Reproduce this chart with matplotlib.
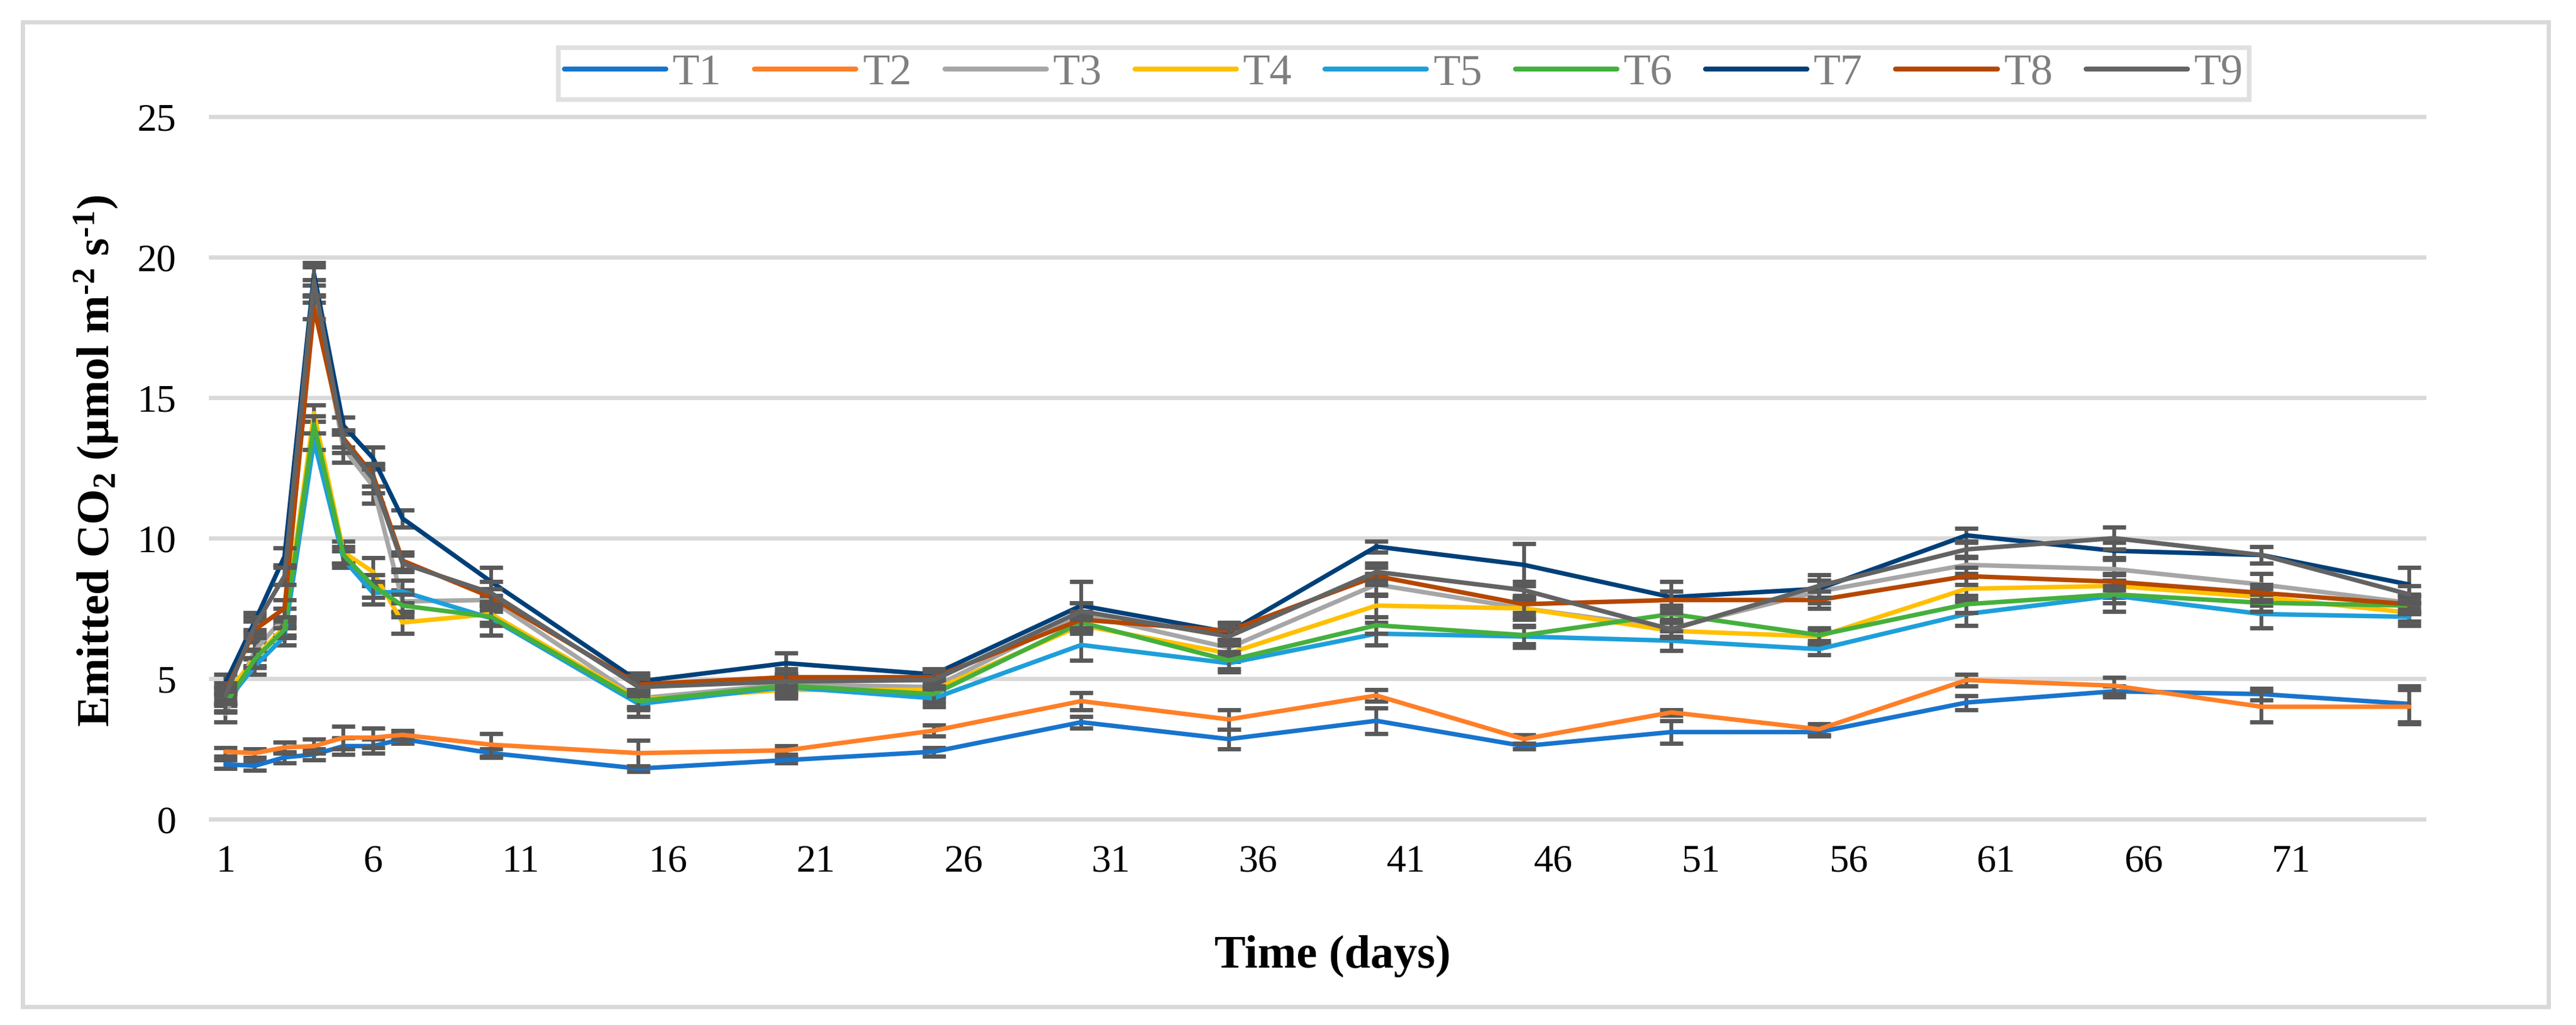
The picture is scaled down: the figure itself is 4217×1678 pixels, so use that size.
import matplotlib
matplotlib.use("Agg")
import matplotlib.pyplot as plt
from matplotlib.patches import Rectangle

plt.rcParams['font.family'] = ['Liberation Serif', 'DejaVu Serif']
plt.rcParams['mathtext.fontset'] = 'custom'
plt.rcParams['mathtext.rm'] = 'Liberation Serif:bold'
plt.rcParams['mathtext.bf'] = 'Liberation Serif:bold'
plt.rcParams['mathtext.it'] = 'Liberation Serif:bold'

days = [1, 2, 3, 4, 5, 6, 7, 10, 15, 20, 25, 30, 35, 40, 45, 50, 55, 60, 65, 70, 75]
tick_days = [1, 6, 11, 16, 21, 26, 31, 36, 41, 46, 51, 56, 61, 66, 71]
y_ticks = [0, 5, 10, 15, 20, 25]
labels = ['T1', 'T2', 'T3', 'T4', 'T5', 'T6', 'T7', 'T8', 'T9']

T1 = [1.95, 1.9, 2.2, 2.3, 2.6, 2.6, 2.85, 2.35, 1.8, 2.1, 2.4, 3.45, 2.85, 3.5, 2.6, 3.1, 3.1, 4.15, 4.55, 4.45, 4.1]
T2 = [2.4, 2.35, 2.55, 2.6, 2.9, 2.9, 3.0, 2.65, 2.35, 2.45, 3.15, 4.2, 3.55, 4.4, 2.85, 3.8, 3.2, 4.95, 4.75, 4.0, 4.0]
T3 = [3.75, 6.0, 7.2, 18.8, 13.2, 11.85, 7.75, 7.8, 4.3, 4.8, 4.7, 7.3, 6.1, 8.35, 7.5, 6.8, 8.1, 9.05, 8.9, 8.35, 7.7]
T4 = [4.4, 5.75, 6.85, 14.45, 9.5, 8.8, 7.0, 7.3, 4.25, 4.6, 4.6, 6.9, 5.9, 7.6, 7.5, 6.7, 6.5, 8.2, 8.3, 7.9, 7.35]
T5 = [4.15, 5.45, 6.5, 13.45, 9.25, 8.05, 8.1, 7.15, 4.1, 4.7, 4.3, 6.2, 5.55, 6.6, 6.5, 6.35, 6.05, 7.3, 7.95, 7.3, 7.2]
T6 = [4.1, 5.7, 6.75, 14.05, 9.4, 8.3, 7.6, 7.2, 4.2, 4.75, 4.45, 7.0, 5.65, 6.9, 6.55, 7.3, 6.55, 7.65, 8.0, 7.7, 7.6]
T7 = [4.85, 7.05, 9.35, 19.4, 14.0, 12.85, 10.7, 8.45, 4.9, 5.55, 5.15, 7.6, 6.65, 9.7, 9.05, 7.9, 8.2, 10.1, 9.55, 9.4, 8.35]
T8 = [4.55, 6.75, 7.5, 18.2, 13.55, 12.25, 9.2, 7.9, 4.8, 5.05, 5.05, 7.1, 6.7, 8.65, 7.65, 7.8, 7.8, 8.65, 8.45, 8.05, 7.65]
T9 = [4.4, 6.9, 8.65, 19.15, 13.45, 12.1, 9.1, 8.05, 4.7, 4.9, 4.95, 7.4, 6.5, 8.8, 8.15, 6.75, 8.3, 9.6, 10.0, 9.4, 8.0]

E1 = [0.15, 0.15, 0.2, 0.2, 0.3, 0.25, 0.15, 0.15, 0.1, 0.1, 0.15, 0.2, 0.35, 0.45, 0.1, 0.4, 0.15, 0.25, 0.2, 0.2, 0.65]
E2 = [0.15, 0.15, 0.2, 0.25, 0.4, 0.35, 0.15, 0.4, 0.45, 0.15, 0.2, 0.3, 0.35, 0.2, 0.15, 0.1, 0.2, 0.2, 0.3, 0.55, 0.6]
E3 = [0.3, 0.3, 0.3, 0.4, 0.5, 0.6, 0.4, 0.4, 0.3, 0.3, 0.3, 0.4, 0.3, 0.4, 0.4, 0.3, 0.4, 0.3, 0.4, 0.4, 0.3]
E4 = [0.3, 0.3, 0.3, 0.3, 0.4, 0.5, 0.4, 0.3, 0.3, 0.3, 0.3, 0.3, 0.3, 0.4, 0.3, 0.3, 0.3, 0.4, 0.4, 0.3, 0.3]
E5 = [0.3, 0.3, 0.3, 0.3, 0.3, 0.4, 0.4, 0.6, 0.45, 0.3, 0.3, 0.55, 0.3, 0.4, 0.4, 0.35, 0.2, 0.4, 0.55, 0.5, 0.3]
E6 = [0.3, 0.3, 0.3, 0.3, 0.3, 0.4, 0.4, 0.3, 0.3, 0.3, 0.3, 0.3, 0.3, 0.3, 0.3, 0.3, 0.2, 0.3, 0.3, 0.3, 0.3]
E7 = [0.3, 0.3, 0.3, 0.4, 0.3, 0.4, 0.3, 0.5, 0.3, 0.37, 0.2, 0.85, 0.3, 0.2, 0.75, 0.55, 0.3, 0.25, 0.3, 0.3, 0.6]
E8 = [0.3, 0.3, 0.3, 0.4, 0.3, 0.4, 0.3, 0.3, 0.3, 0.3, 0.3, 0.3, 0.3, 0.3, 0.3, 0.3, 0.3, 0.3, 0.3, 0.3, 0.3]
E9 = [0.3, 0.3, 0.3, 0.5, 0.4, 0.5, 0.3, 0.4, 0.3, 0.3, 0.3, 0.3, 0.3, 0.3, 0.3, 0.3, 0.4, 0.3, 0.4, 0.3, 0.3]

series = [T1, T2, T3, T4, T5, T6, T7, T8, T9]
errors = [E1, E2, E3, E4, E5, E6, E7, E8, E9]
colors = ['#1874CD', '#FF7F27', '#A6A6A6', '#FFC000', '#1E9FDA',
          '#45B03D', '#004079', '#B54700', '#636363']

W, H = 4217, 1678
fig = plt.figure(figsize=(W / 100, H / 100), dpi=100)
ax = fig.add_axes([345 / W, 1 - 1341 / H, (3968 - 345) / W, (1341 - 191) / H])

handles = []
for i, (vals, errs, c, lab) in enumerate(zip(series, errors, colors, labels)):
    ax.errorbar(days, vals, yerr=errs, fmt='none', ecolor='#595959',
                elinewidth=4.5, capsize=13.5, capthick=5, zorder=3 + i * 0.1)
    ln, = ax.plot(days, vals, color=c, lw=5.3, solid_capstyle='round',
                  solid_joinstyle='round', label=lab, zorder=3.05 + i * 0.1)
    handles.append(ln)

ax.set_xlim(0.5, 75.5)
ax.set_ylim(0, 25)
ax.set_xticks(tick_days)
ax.set_xticklabels([str(d) for d in tick_days])
ax.set_yticks(y_ticks)
ax.tick_params(axis='both', length=0, labelsize=46, colors='black')
ax.tick_params(axis='y', pad=41)
ax.tick_params(axis='x', pad=30)
ax.grid(axis='y', color='#D9D9D9', lw=5)
for gl in ax.get_ygridlines():
    gl.set_clip_on(False)
ax.set_axisbelow(True)
for s in ax.spines.values():
    s.set_visible(False)

fig.text(2181 / W, 1 - 1565 / H, 'Time (days)', ha='center', va='center',
         fontsize=55, fontweight='bold')
fig.text(158 / W, 1 - 755 / H,
         r'Emitted CO$_{\text{2}}$ (µmol m$^{\text{-2}}$ s$^{\text{-1}}$)',
         ha='center', va='center', rotation=90, fontsize=54, fontweight='bold')

leg = fig.legend(handles=handles, labels=labels, ncol=9, loc='center',
                 bbox_to_anchor=(2298 / W, 1 - 120.5 / H), fontsize=52,
                 frameon=True, fancybox=False, handlelength=2.3,
                 handletextpad=0.15, columnspacing=0.75, borderpad=0.14,
                 borderaxespad=0, labelcolor='#7F7F7F')
leg.get_frame().set_edgecolor('#D9D9D9')
leg.get_frame().set_linewidth(5.5)
for lh in leg.get_lines():
    lh.set_linewidth(5.8)
    lh.set_solid_capstyle('round')

fig.patches.append(Rectangle((37 / W, 1 - 1648 / H), (4172 - 37) / W, (1648 - 36) / H,
                             transform=fig.transFigure, fill=False,
                             edgecolor='#D9D9D9', lw=5, zorder=0))

fig.savefig('out.png', dpi=100, facecolor='white')
